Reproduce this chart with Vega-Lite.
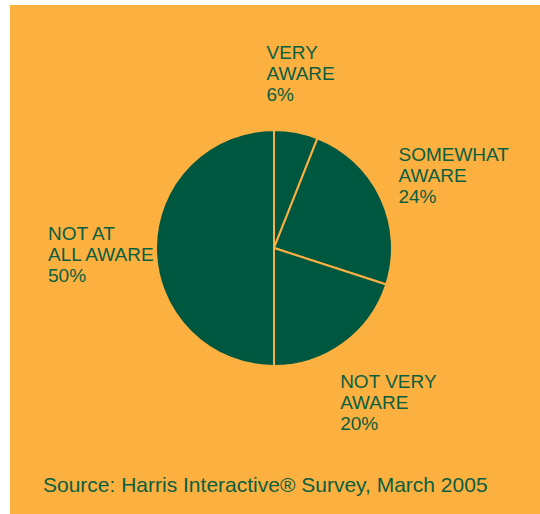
{
  "$schema": "https://vega.github.io/schema/vega-lite/v6.json",
  "autosize": {"type": "fit", "contains": "padding"},
  "width": 540,
  "height": 514,
  "padding": {"left": 10, "top": 5, "right": 0, "bottom": 0},
  "background": "#ffffff",
  "view": {"fill": "#FBB040", "stroke": null},
  "title": {
    "text": "Source: Harris Interactive® Survey, March 2005",
    "orient": "bottom",
    "anchor": "start",
    "frame": "group",
    "offset": 0,
    "dx": 33,
    "dy": -22,
    "baseline": "alphabetic",
    "font": "Liberation Sans",
    "fontSize": 21,
    "fontWeight": "normal",
    "color": "#0B5E3F"
  },
  "data": {
    "values": [
      {"category": "Very aware", "value": 6, "label": "VERY\nAWARE\n6%", "order": 1},
      {"category": "Somewhat aware", "value": 24, "label": "SOMEWHAT\nAWARE\n24%", "order": 2},
      {"category": "Not very aware", "value": 20, "label": "NOT VERY\nAWARE\n20%", "order": 3},
      {"category": "Not at all aware", "value": 50, "label": "NOT AT\nALL AWARE\n50%", "order": 4}
    ]
  },
  "encoding": {
    "theta": {"field": "value", "type": "quantitative", "stack": true},
    "order": {"field": "order", "type": "quantitative"}
  },
  "layer": [
    {
      "mark": {"type": "arc", "outerRadius": 118, "fill": "#00573F", "stroke": "#FBB040", "strokeWidth": 2, "xOffset": -1, "yOffset": -11.5}
    },
    {
      "mark": {"type": "text", "radius": 184, "xOffset": -43, "yOffset": -26, "font": "Liberation Sans", "fontSize": 19, "lineHeight": 21, "lineBreak": "\n", "align": "left", "baseline": "middle", "fill": "#0B5E3F"},
      "encoding": {"text": {"field": "label"}}
    }
  ]
}
